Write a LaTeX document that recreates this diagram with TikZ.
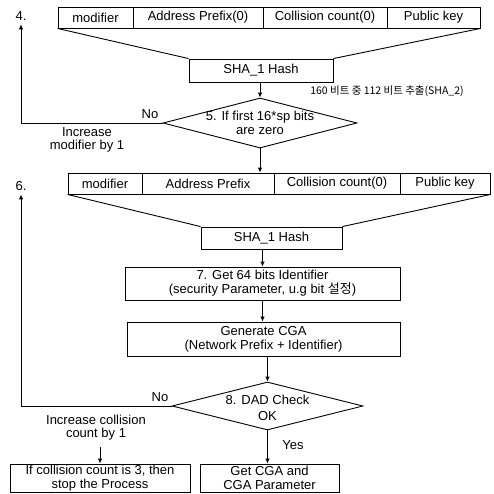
\documentclass[tikz,border=0pt]{standalone}
\usepackage{fontspec}
\setmainfont{Liberation Sans}
\newfontfamily\kr{Noto Sans CJK KR}
\usetikzlibrary{shapes.geometric, arrows.meta}

\tikzset{
	cell/.style={draw, minimum height=21pt, inner sep=0pt},
	stepbox/.style={draw, inner sep=0pt, align=center},
	test/.style={draw, diamond, inner sep=0pt},
	note/.style={align=center, font=\fontsize{13}{13}\selectfont}
}

\begin{document}
\begin{tikzpicture}[x=1pt, y=-1pt, font=\fontsize{13}{14}\selectfont, line width=0.9pt, >={Latex[length=5pt,width=4.5pt]}]
	\useasboundingbox (0,0) rectangle (494,493);
	% first input block
	\node[cell, minimum width=75pt](mod1) at (95.5, 17.5) {modifier};
	\node[cell, minimum width=130pt](addr1) at (198, 17.5) {Address Prefix(0)};
	\node[cell, minimum width=124pt](coll1) at (325, 17.5) {Collision count(0)};
	\node[cell, minimum width=93pt](pub1) at (433.5, 17.5) {Public key};
	\node[stepbox, minimum width=144pt, minimum height=23pt](hash1) at (261, 70.5) {SHA\_1 Hash};
	\draw (mod1.south west) -- (hash1.north west);
	\draw (pub1.south east) -- (hash1.north east);

	\node[font=\kr\fontsize{10.5}{12}\selectfont](sha2) at (387, 91) {160 비트 중 112 비트 추출(SHA\_2)};

	\node[test, minimum width=194pt, minimum height=50pt](chk1) at (260, 123) {};
	\node[align=center](chk1txt) at (chk1) {5. If first 16*sp bits\\are zero};
	\draw[->] (hash1.south -| chk1.north) -- (chk1.north);

	\node(step4) at (21, 16) {4.};
	\node(no1) at (150, 114) {No};
	\node[note](inc1) at (87, 140) {Increase\\modifier by 1};
	\draw[->] (chk1.west) -| (step4.south);

	% second input block
	\node[cell, minimum width=74pt](mod2) at (105, 183.5) {modifier};
	\node[cell, minimum width=132pt](addr2) at (208, 183.5) {Address Prefix};
	\node[cell, minimum width=126pt](coll2) at (337, 183.5) {Collision count(0)};
	\node[cell, minimum width=90pt](pub2) at (445, 183.5) {Public key};
	\draw[->] (chk1.south) -- (chk1.south |- addr2.north);

	\node[stepbox, minimum width=141pt, minimum height=22pt](hash2) at (271.5, 238) {SHA\_1 Hash};
	\draw (mod2.south west) -- (hash2.north west);
	\draw (pub2.south east) -- (hash2.north east);

	\node[stepbox, minimum width=275pt, minimum height=33pt](ident) at (262.5, 283.5) {7. Get 64 bits Identifier\\(security Parameter, u.g bit {\kr 설정})};
	\draw[->] (hash2.south -| ident.north) -- (ident.north);

	\node[stepbox, minimum width=273pt, minimum height=34pt](gen) at (263.5, 339) {Generate CGA\\(Network Prefix + Identifier)};
	\draw[->] (ident.south) -- (ident.south |- gen.north);

	\node[test, minimum width=191pt, minimum height=48pt](chk2) at (267.5, 406) {};
	\node[align=center, font=\fontsize{13}{16}\selectfont](chk2txt) at ([yshift=-2pt]chk2) {8. DAD Check\\OK};
	\draw[->] (chk2.north |- gen.south) -- (chk2.north);

	\node(step6) at (21, 186) {6.};
	\node(no2) at (160, 397) {No};
	\draw[->] (chk2.west) -| (step6.south);
	\node[note](inc2) at (96, 428) {Increase collision\\count by 1};

	\node[stepbox, minimum width=180pt, minimum height=28pt](stop) at (100, 478) {If collision count is 3, then\\stop the Process};
	\coordinate(from2) at (100, 447);
	\draw[->] (from2) -- (stop.north);

	\node[stepbox, minimum width=139pt, minimum height=28pt](get) at (269.5, 478) {Get CGA and\\CGA Parameter};
	\node(yes) at (293, 445) {Yes};
	\draw[->] (chk2.south) -- (chk2.south |- get.north);
\end{tikzpicture}
\end{document}
